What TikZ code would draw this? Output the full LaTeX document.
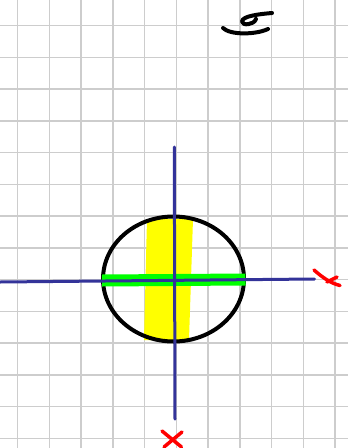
\documentclass[tikz,border=0pt]{standalone}
\begin{document}
\begin{tikzpicture}[x=1pt,y=-1pt, line cap=round, line join=round]
\definecolor{gridc}{RGB}{205,205,205}
\definecolor{axisc}{RGB}{51,51,153}
\definecolor{hlgreen}{RGB}{0,255,0}
\definecolor{hlyellow}{RGB}{255,255,0}
\definecolor{redc}{RGB}{255,0,0}
\tikzset{gridline/.style={draw=gridc, line width=1.5pt, line cap=butt},
  axisline/.style={draw=axisc, line width=3pt},
  ink/.style={draw=black, line width=4pt},
  redmark/.style={draw=redc, line width=3.5pt}}
\fill[white] (0,0) rectangle (348,448);
\useasboundingbox (0,0) rectangle (348,448);
\foreach \k in {0,...,10} \draw[gridline] ({17.5+31.75*\k},0) -- ({17.5+31.75*\k},448);
\foreach \k in {0,...,13} \draw[gridline] (0,{25.7+31.75*\k}) -- (348,{25.7+31.75*\k});
% yellow highlight
\fill[hlyellow] (147,219) -- (193,219) -- (189,340) -- (144,340) -- cycle;
% circle
\draw[ink] (173.5,279) ellipse [x radius=70.5, y radius=62.5];
% green highlight
\draw[hlgreen, line width=12pt, line cap=butt] (102,280.5) -- (245.5,279.5);
% axes
\draw[axisline] (0,282) -- (314.5,279);
\draw[axisline] (174.3,147) -- (175,419);
% red marks
\draw[redmark] (314,270) .. controls (322,277) and (330,283) .. (340,285.5);
\draw[redmark] (337,277) -- (327,282);
\draw[redmark] (162,431) -- (181.5,447);
\draw[redmark] (182,432) -- (164,447);
% sigma
\draw[ink] (223,28) .. controls (230,35) and (255,35) .. (268,29);
\draw[ink] (272,13) .. controls (260,14) and (242,16) .. (242,21.5) .. controls (242,26) and (254,25) .. (256,19);
\end{tikzpicture}
\end{document}
